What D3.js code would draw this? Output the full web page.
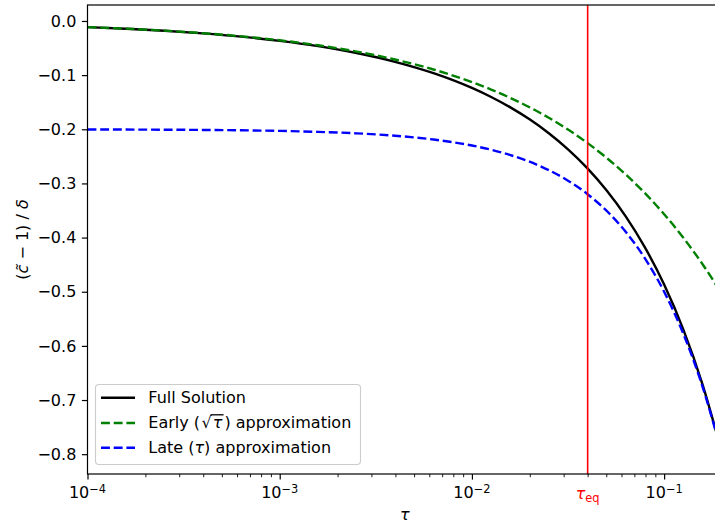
<!DOCTYPE html>
<html>
<head>
<meta charset="utf-8">
<script src="https://cdn.jsdelivr.net/npm/d3@7"></script>
<style>
  body { margin: 0; background: #fff; }
  svg { display: block; font-family: "DejaVu Sans", sans-serif; }
</style>
</head>
<body>
<svg id="chart" width="715" height="524"></svg>
<script>
// tau sample points
const tau = [0.0001, 0.0001585, 0.0002512, 0.0003981, 0.000631, 0.001, 0.001585, 0.002512,
  0.003981, 0.00631, 0.01, 0.01259, 0.01585, 0.01995, 0.02512, 0.03162, 0.03981, 0.05012,
  0.0631, 0.07943, 0.1, 0.1259, 0.1585, 0.2];

const fullSolution = [-0.01139, -0.01437, -0.01814, -0.02292, -0.02899, -0.03671, -0.04656, -0.05917,
  -0.07538, -0.09634, -0.12364, -0.14035, -0.15955, -0.18168, -0.20731, -0.23708, -0.27183, -0.31263,
  -0.3608, -0.41807, -0.48676, -0.56986, -0.67142, -0.79825];

const earlyApprox = [-0.01128, -0.01421, -0.01788, -0.02251, -0.02834, -0.03568, -0.04492, -0.05655,
  -0.0712, -0.0896, -0.1128, -0.1266, -0.1421, -0.1594, -0.1788, -0.2006, -0.2251, -0.2526,
  -0.2834, -0.318, -0.3568, -0.4004, -0.4492, -0.5046];

const lateApprox = [-0.2003, -0.2005, -0.2008, -0.2012, -0.2019, -0.203, -0.2048, -0.2075,
  -0.2119, -0.2189, -0.23, -0.2378, -0.2476, -0.2599, -0.2754, -0.2949, -0.3194, -0.3504,
  -0.3893, -0.4383, -0.5, -0.5777, -0.6755, -0.8];

const tauEq = 0.04;

const xMajor = [1e-4, 1e-3, 1e-2, 1e-1];
const xMajorExp = ["\u22124", "\u22123", "\u22122", "\u22121"];
const yTicks = [-0.8, -0.7, -0.6, -0.5, -0.4, -0.3, -0.2, -0.1, 0.0];

const series = [
  { name: "full", values: fullSolution, color: "#000000", dash: null },
  { name: "early", values: earlyApprox, color: "#008000", dash: "8.9,3.8" },
  { name: "late", values: lateApprox, color: "#0000ff", dash: "8.9,3.8" }
];

const pLeft = 87.5, pTop = 5, pRight = 722, pBottom = 474;
const fs = 16;

const svg = d3.select("#chart");

const x = d3.scaleLog().domain([1e-4, 0.2]).range([pLeft, pRight]);
const y = d3.scaleLinear().domain([-0.8366, 0.0295]).range([pBottom, pTop]);

// clip
svg.append("clipPath").attr("id", "plotclip")
  .append("rect").attr("x", pLeft).attr("y", pTop).attr("width", pRight - pLeft).attr("height", pBottom - pTop);

const plot = svg.append("g").attr("clip-path", "url(#plotclip)");

// curves
const line = d3.line()
  .x((d, i) => x(tau[i]))
  .y(d => y(d))
  .curve(d3.curveMonotoneX);

series.forEach(s => {
  plot.append("path")
    .attr("d", line(s.values))
    .attr("fill", "none")
    .attr("stroke", s.color)
    .attr("stroke-width", 2.4)
    .attr("stroke-dasharray", s.dash);
});

// tau_eq marker
plot.append("line")
  .attr("x1", x(tauEq)).attr("x2", x(tauEq))
  .attr("y1", pTop).attr("y2", pBottom)
  .attr("stroke", "#ff0000").attr("stroke-width", 1.6);

// x axis minor ticks
const xMinor = [];
[1e-4, 1e-3, 1e-2, 1e-1].forEach(d => { for (let k = 2; k <= 9; k++) { if (d * k <= 0.2) xMinor.push(d * k); } });

const xAxisMinor = svg.append("g").attr("transform", `translate(0,${pBottom})`)
  .call(d3.axisBottom(x).tickValues(xMinor).tickSize(3.2).tickSizeOuter(0).tickFormat(""));
xAxisMinor.select(".domain").remove();
xAxisMinor.selectAll(".tick line").attr("stroke-width", 0.9);

const xAxis = svg.append("g").attr("transform", `translate(0,${pBottom})`)
  .call(d3.axisBottom(x).tickValues(xMajor).tickSize(5.6).tickSizeOuter(0).tickFormat(""));
xAxis.select(".domain").remove();
xAxis.selectAll(".tick line").attr("stroke-width", 1.2);

// x tick labels: 10^n
xMajor.forEach((v, i) => {
  const t = svg.append("text")
    .attr("x", x(v)).attr("y", 498.3)
    .attr("text-anchor", "middle")
    .attr("font-size", fs).attr("fill", "#000");
  t.append("tspan").text("10");
  t.append("tspan").attr("dy", -5.5).attr("font-size", 11.4).text(xMajorExp[i]);
});

// tau_eq label
const teq = svg.append("text")
  .attr("x", x(tauEq)).attr("y", 499)
  .attr("text-anchor", "middle")
  .attr("font-size", fs).attr("fill", "#ff0000");
teq.append("tspan").attr("font-style", "italic").text("\u03c4");
teq.append("tspan").attr("dy", 3.2).attr("font-size", 11.4).text("eq");

// y axis
const yAxis = svg.append("g").attr("transform", `translate(${pLeft},0)`)
  .call(d3.axisLeft(y).tickValues(yTicks).tickSize(5.6).tickSizeOuter(0).tickPadding(5.6)
    .tickFormat(d3.format(".1f")));
yAxis.select(".domain").remove();
yAxis.selectAll(".tick line").attr("stroke-width", 1.2);
yAxis.selectAll(".tick text").attr("font-size", fs).attr("font-family", "DejaVu Sans").attr("fill", "#000");

// spines
const spine = svg.append("g").attr("stroke", "#000").attr("stroke-width", 1.2).attr("fill", "none");
spine.append("rect").attr("x", pLeft).attr("y", pTop).attr("width", pRight - pLeft).attr("height", pBottom - pTop);

// axis labels
svg.append("text")
  .attr("x", (pLeft + pRight) / 2).attr("y", 520)
  .attr("text-anchor", "middle").attr("font-size", fs).attr("font-style", "italic")
  .text("\u03c4");

const yLab = svg.append("text")
  .attr("transform", `translate(28,${(pTop + pBottom) / 2}) rotate(-90)`)
  .attr("text-anchor", "middle").attr("font-size", fs);
yLab.append("tspan").text("(");
yLab.append("tspan").attr("font-style", "italic").text("c\u0303");
yLab.append("tspan").text(" \u2212 1) / ");
yLab.append("tspan").attr("font-style", "italic").text("\u03b4");

// legend
const legend = svg.append("g");
legend.append("rect")
  .attr("x", 95.5).attr("y", 384.5).attr("width", 265).attr("height", 80)
  .attr("rx", 3.5)
  .attr("fill", "#fff").attr("fill-opacity", 0.8)
  .attr("stroke", "#cccccc").attr("stroke-width", 1.1);

const legendRows = [
  { s: series[0], yc: 397.7 },
  { s: series[1], yc: 423.0 },
  { s: series[2], yc: 447.7 }
];
legendRows.forEach(r => {
  legend.append("line")
    .attr("x1", 101).attr("x2", 135).attr("y1", r.yc).attr("y2", r.yc)
    .attr("stroke", r.s.color).attr("stroke-width", 2.4)
    .attr("stroke-dasharray", r.s.dash);
});

legend.append("text").attr("x", 148.3).attr("y", 397.7 + 5.3).attr("font-size", fs)
  .text("Full Solution");

const earlyText = legend.append("text").attr("x", 148.3).attr("y", 423.0 + 5.3).attr("font-size", fs);
earlyText.append("tspan").text("Early (");
earlyText.append("tspan").attr("dx", 1.5).text("\u221a");
earlyText.append("tspan").attr("dx", 1).attr("font-style", "italic").text("\u03c4");
earlyText.append("tspan").attr("dx", 2).text(") approximation");

// overline of the square root
const node = earlyText.node();
const iRad = "Early (".length;
const eRad = node.getExtentOfChar(iRad);
const eTau = node.getExtentOfChar(iRad + 1);
legend.append("line")
  .attr("x1", eRad.x + eRad.width - 1.2).attr("x2", eTau.x + eTau.width + 1.2)
  .attr("y1", 414.8).attr("y2", 414.8)
  .attr("stroke", "#000").attr("stroke-width", 1.3);

const lateText = legend.append("text").attr("x", 148.3).attr("y", 447.7 + 5.3).attr("font-size", fs);
lateText.append("tspan").text("Late (");
lateText.append("tspan").attr("font-style", "italic").text("\u03c4");
lateText.append("tspan").text(") approximation");
</script>
</body>
</html>
